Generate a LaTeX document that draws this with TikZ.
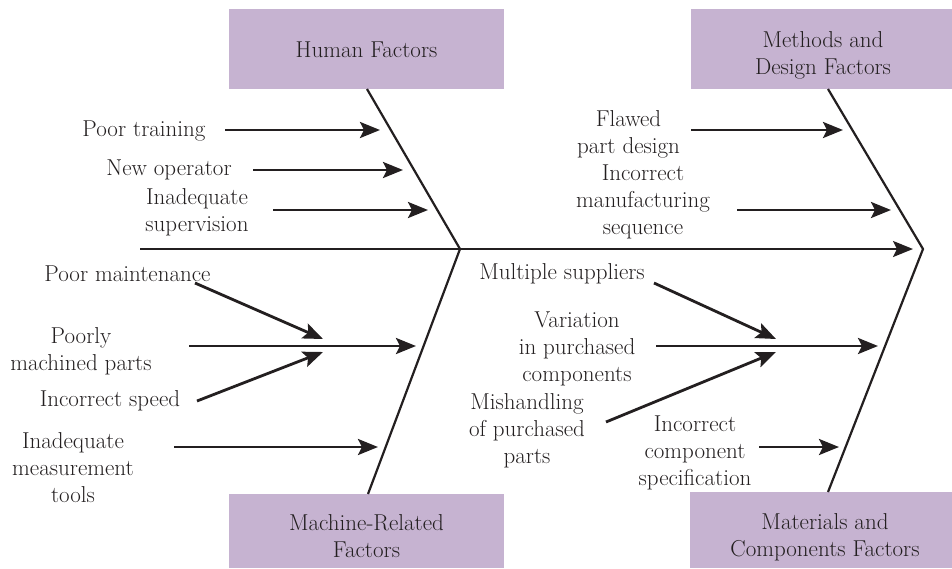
\documentclass[tikz,border=0pt]{standalone}
\usepackage{fontspec}
\usetikzlibrary{arrows.meta}
\definecolor{boxpurple}{HTML}{C6B3D1}
\definecolor{ink}{HTML}{231F20}
\begin{document}
\begin{tikzpicture}[x=1pt,y=-1pt,
  box/.style={fill=boxpurple, draw=none, inner sep=0pt},
  lbl/.style={inner sep=0pt, align=center, font=\fontsize{23}{27}\selectfont, text=ink},
  bone/.style={draw=ink, line width=2.2pt},
  tip/.style={-{Stealth[length=20pt,width=16pt,inset=4pt]}},
  cause/.style={draw=ink, line width=2.8pt, tip}]
\useasboundingbox (0,0) rectangle (952,568);

% category boxes
\node[box, minimum width=275pt, minimum height=80pt] (hf) at (366.5,49) {};
\node[box, minimum width=261pt, minimum height=80pt] (mdf) at (821.5,49) {};
\node[box, minimum width=275pt, minimum height=74pt] (mrf) at (366.5,531) {};
\node[box, minimum width=262pt, minimum height=76pt] (mcf) at (821,530) {};
\node[lbl] (hft) at (366.5,50) {Human Factors};
\node[lbl] (mdft) at (823,55.5) {Methods and\\Design Factors};
\node[lbl] (mrft) at (366.5,536.5) {Machine-Related\\Factors};
\node[lbl] (mcft) at (825,537) {Materials and\\Components Factors};

% skeleton coordinates
\coordinate (s0) at (140,249);
\coordinate (s1) at (913,249);
\coordinate (j1) at (460,249);
\coordinate (j2) at (923,249);
\coordinate (hb) at (367,89);
\coordinate (mb) at (368,494);
\coordinate (db) at (828,89);
\coordinate (cb) at (828,492);

\draw[bone] (hb) -- (j1) -- (mb);
\draw[bone] (db) -- (j2) -- (cb);
\draw[bone, line width=2.4pt, tip] (s0) -- (s1);

% labels
\node[lbl] (t1) at (144,131) {Poor training};
\node[lbl] (t2) at (169,170) {New operator};
\node[lbl] (t3) at (197,212) {Inadequate\\supervision};
\node[lbl] (t4) at (127.5,274) {Poor maintenance};
\node[lbl] (t5) at (81,351) {Poorly\\machined parts};
\node[lbl] (t6) at (110,401) {Incorrect speed};
\node[lbl] (t7) at (73,468) {Inadequate\\measurement\\tools};
\node[lbl] (t8) at (628.5,134.5) {Flawed\\part design};
\node[lbl] (t9) at (643,201.5) {Incorrect\\manufacturing\\sequence};
\node[lbl] (t10) at (562,274) {Multiple suppliers};
\node[lbl] (t11) at (577,348.5) {Variation\\in purchased\\components};
\node[lbl] (t12) at (527,431) {Mishandling\\of purchased\\parts};
\node[lbl] (t13) at (695,452.5) {Incorrect\\component\\specification};

% arrow coordinates
\coordinate (a1s) at (225,130); \coordinate (a1e) at (380,130);
\coordinate (a2s) at (253,170); \coordinate (a2e) at (403,170);
\coordinate (a3s) at (273,210); \coordinate (a3e) at (428,210);
\coordinate (b1s) at (195,283); \coordinate (b1e) at (323,339);
\coordinate (b2s) at (189,346); \coordinate (b2e) at (416,346);
\coordinate (b3s) at (197,401); \coordinate (b3e) at (323,352);
\coordinate (b4s) at (174,447); \coordinate (b4e) at (378,447);
\coordinate (c1s) at (691,130); \coordinate (c1e) at (843,130);
\coordinate (c2s) at (737,210); \coordinate (c2e) at (891,210);
\coordinate (d1s) at (654,283); \coordinate (d1e) at (776,339);
\coordinate (d2s) at (656,346); \coordinate (d2e) at (878,346);
\coordinate (d3s) at (606,422); \coordinate (d3e) at (776,352);
\coordinate (d4s) at (759,447); \coordinate (d4e) at (839,447);

\foreach \p in {a1,a2,a3,b1,b2,b3,b4,c1,c2,d1,d2,d3,d4}
  \draw[cause] (\p s) -- (\p e);
\end{tikzpicture}
\end{document}
